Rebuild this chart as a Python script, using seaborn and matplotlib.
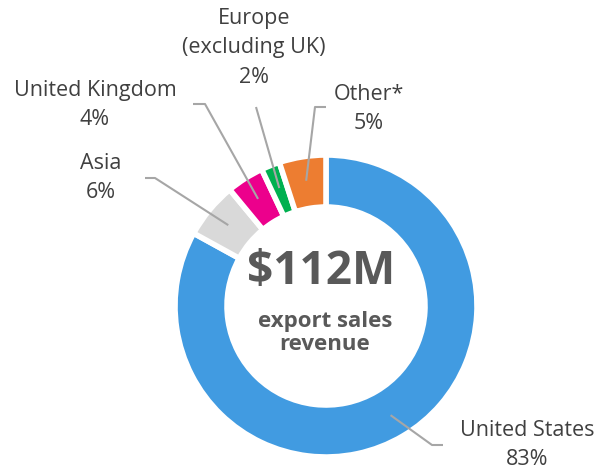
import numpy as np
import matplotlib
matplotlib.use("Agg")
import matplotlib.pyplot as plt
import seaborn as sns

regions = ["United States", "Asia", "United Kingdom", "Europe\n(excluding UK)", "Other*"]
shares = [83, 6, 4, 2, 5]
colors = ["#419BE1", "#D9D9D9", "#EC008C", "#00B050", "#ED7D31"]
total_label = "$112M"
total_caption = "export sales\nrevenue"

sns.set_style("white")
plt.rcParams["font.family"] = ["Open Sans", "DejaVu Sans"]

W, H = 596, 476
fig = plt.figure(figsize=(W / 100, H / 100), dpi=100)
ax = fig.add_axes([0, 0, 1, 1])

cx, cy, R = 326, H - 306, 151
wedges, _ = ax.pie(shares, colors=colors, startangle=90, counterclock=False,
                   center=(cx, cy), radius=R, frame=True,
                   wedgeprops=dict(width=52, edgecolor="white", linewidth=4))
ax.set_xlim(0, W)
ax.set_ylim(0, H)
ax.set_aspect("equal")
ax.axis("off")

# label layout in image pixel coords: text centre, elbow, end of leader
layout = [
    ((527, 445), (432, 445), (443, 445)),
    ((101, 178), (155, 178), (145, 178)),
    ((95, 105), (205, 104), (193, 104)),
    ((254, 48), (256, 107), None),
    ((369, 109), (315, 107), (326, 107)),
]
line_col = "#A6A6A6"
for w, name, val, (txt, elbow, end) in zip(wedges, regions, shares, layout):
    mid = np.deg2rad((w.theta1 + w.theta2) / 2)
    r0 = R * 0.84
    x0, y0 = cx + r0 * np.cos(mid), cy + r0 * np.sin(mid)
    xs = [x0, elbow[0]]
    ys = [y0, H - elbow[1]]
    if end is not None:
        xs.append(end[0])
        ys.append(H - end[1])
    ax.plot(xs, ys, color=line_col, lw=1.5, solid_capstyle="butt")
    ax.text(txt[0], H - txt[1], f"{name}\n{val}%", ha="center", va="center",
            fontsize=15.5, color="#404040", linespacing=1.55)

ax.text(cx - 5, H - 272, total_label, ha="center", va="center",
        fontsize=33, fontweight="bold", color="#595959")
ax.text(cx - 1, H - 333, total_caption, ha="center", va="center",
        fontsize=16, fontweight="bold", color="#595959", linespacing=1.15)

fig.savefig("out.png", dpi=100)
